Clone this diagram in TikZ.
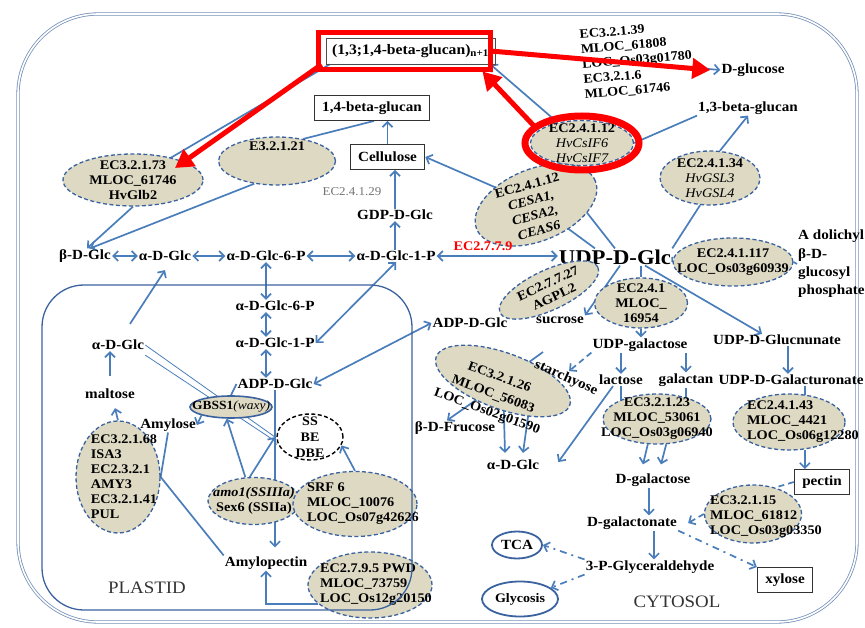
\documentclass[tikz,border=0pt]{standalone}
\usepackage{fontspec}
\setmainfont{Liberation Serif}[FakeStretch=1.08]
\usetikzlibrary{arrows.meta,positioning,shapes.geometric}

\definecolor{arrblue}{RGB}{74,126,187}
\definecolor{ringblue}{RGB}{58,98,158}
\definecolor{tanfill}{RGB}{221,217,195}
\definecolor{cellline}{RGB}{118,146,184}
\definecolor{markred}{RGB}{255,0,0}

\pgfdeclarelayer{bg}
\pgfsetlayers{bg,main}

\tikzset{
  lbl/.style={font=\fontsize{14}{15}\selectfont\bfseries, inner sep=1pt},
  bigl/.style={font=\fontsize{21}{23}\selectfont\bfseries, inner sep=1pt},
  boxlbl/.style={lbl, draw=black!80, line width=0.9pt, inner xsep=8pt, minimum height=25pt},
  enz/.style={ellipse, draw=ringblue, dash pattern=on 4pt off 2.5pt, line width=1.3pt, fill=tanfill, inner sep=0pt},
  solidenz/.style={ellipse, draw=ringblue, line width=1.6pt, fill=tanfill, inner sep=0pt},
  etxt/.style={font=\fontsize{13.2}{15}\selectfont\bfseries, align=center, inner sep=0pt},
  pool/.style={ellipse, draw=ringblue, line width=1.8pt, inner sep=0pt},
  flow/.style={draw=arrblue, line width=1.7pt},
  thinflow/.style={draw=arrblue, line width=0.8pt},
  dashflow/.style={flow, dash pattern=on 6pt off 4pt},
  dashdotflow/.style={flow, dash pattern=on 7pt off 5pt on 2pt off 5pt},
  redmark/.style={draw=markred, line width=5pt},
  redarrow/.style={redmark, -{Triangle[length=18pt,width=20pt]}},
  region/.style={font=\fontsize{17.5}{19}\selectfont, text=black!80}
}

\begin{document}
\begin{tikzpicture}[x=1pt, y=-1pt, >={Straight Barb[length=5pt,width=10pt]}]
  \useasboundingbox (0,0) rectangle (865,628);

  % cell wall
  \draw[draw=cellline, line width=0.8pt, double=white, double distance=1.6pt, rounded corners=80pt] (18,14) rectangle (857,622);

  % wall polymers
  \node[lbl, draw=black!70, line width=0.9pt, minimum width=169pt, minimum height=26pt, font=\fontsize{14.5}{16}\selectfont\bfseries] (gluc) at (410.5,51) {(1,3;1,4-beta-glucan)\textsubscript{n+1}};
  \node[lbl] (dglu) at (753,70) {D-glucose};
  \node[etxt, align=left, rotate=5, anchor=north west, font=\fontsize{13}{15}\selectfont\bfseries] (hyd) at (579,30) {EC3.2.1.39\\MLOC\_61808\\LOC\_Os03g01780\\EC3.2.1.6\\MLOC\_61746};
  \node[lbl] (one3) at (748,108) {1,3-beta-glucan};
  \node[boxlbl, minimum width=115pt] (one4) at (372,108) {1,4-beta-glucan};
  \node[boxlbl] (cel) at (387.5,157) {Cellulose};
  \node[lbl, font=\fontsize{12}{14}\selectfont, text=black!55] (ec29) at (352,192) {EC2.4.1.29};
  \node[lbl] (gdp) at (395,215) {GDP-D-Glc};

  \node[enz, minimum width=117pt, minimum height=48pt] (e21) at (277,161) {};
  \node[etxt] (e21t) at (277,146) {E3.2.1.21};
  \node[enz, minimum width=140pt, minimum height=52pt, label={[etxt]center:{EC3.2.1.73\\MLOC\_61746\\HvGlb2}}] (e73) at (133,180) {};
  \node[enz, minimum width=103pt, minimum height=45pt, label={[etxt]center:{EC2.4.1.12\\{\mdseries\itshape HvCsIF6}\\{\mdseries\itshape HvCsIF7}}}] (csif) at (582,143) {};
  \node[enz, rotate=22, minimum width=128pt, minimum height=72pt] (cesa) at (536,205) {};
  \node[etxt, rotate=15, font=\fontsize{13.2}{15.5}\selectfont\bfseries] (cesat) at (533,208) {EC2.4.1.12\\\textit{CESA1,}\\\textit{CESA2,}\\\textit{CEAS6}};
  \node[enz, minimum width=100pt, minimum height=54pt, label={[etxt]center:{EC2.4.1.34\\{\mdseries\itshape HvGSL3}\\{\mdseries\itshape HvGSL4}}}] (gsl) at (710,178) {};

  % main row
  \node[lbl] (bglc) at (85,256) {β-D-Glc};
  \node[lbl] (aglc) at (165,256) {α-D-Glc};
  \node[lbl] (g6p) at (266,256) {α-D-Glc-6-P};
  \node[lbl] (g1p) at (396,256) {α-D-Glc-1-P};
  \node[bigl] (udp) at (615,257) {UDP-D-Glc};
  \node[etxt, text=markred] (ec779) at (483,246) {EC2.7.7.9};
  \node[enz, minimum width=120pt, minimum height=48pt, label={[etxt]center:{EC2.4.1.117\\LOC\_Os03g60939}}] (e117) at (733,262) {};
  \node[lbl, align=left, anchor=west, font=\fontsize{14}{18.3}\selectfont\bfseries] (dol) at (797,264) {A dolichyl\\β-D-\\glucosyl\\phosphate};

  % cytosol
  \node[enz, rotate=25, minimum width=108pt, minimum height=40pt] (agpl) at (549,290) {};
  \node[etxt, rotate=25] (agplt) at (551,290) {EC2.7.7.27\\AGPL2};
  \node[enz, minimum width=93pt, minimum height=50pt, label={[etxt]center:{EC2.4.1\\MLOC\_\\16954}}] (e41) at (641,303) {};
  \node[lbl] (sucrose) at (560,320) {sucrose};
  \node[lbl] (adpc) at (470,323) {ADP-D-Glc};
  \node[lbl] (udpgal) at (640,345) {UDP-galactose};
  \node[lbl] (udpglcn) at (777,340) {UDP-D-Glucnunate};
  \node[enz, rotate=-20, minimum width=142pt, minimum height=56pt] (e26) at (503,381) {};
  \node[etxt, rotate=-20, font=\fontsize{13.2}{18}\selectfont\bfseries] (e26t) at (493,395) {EC3.2.1.26\\MLOC\_56083\\LOC\_Os02g01590};
  \node[lbl, rotate=-24] (starch) at (566,378) {starchyose};
  \node[lbl] (bfru) at (455,428) {β-D-Frucose};
  \node[lbl] (aglcc) at (513,465) {α-D-Glc};
  \node[lbl] (lactose) at (621,380) {lactose};
  \node[lbl] (galactan) at (686,380) {galactan};
  \node[lbl] (udpgalac) at (791,380) {UDP-D-Galacturonate};
  \node[enz, minimum width=108pt, minimum height=50pt, label={[etxt]center:{EC3.2.1.23\\MLOC\_53061\\LOC\_Os03g06940}}] (e23) at (657,419) {};
  \node[enz, minimum width=112pt, minimum height=56pt, label={[etxt, align=left, xshift=14pt]center:{EC2.4.1.43\\MLOC\_4421\\LOC\_Os06g12280}}] (e43) at (789,422) {};
  \node[boxlbl] (pectin) at (822,482) {pectin};
  \node[enz, minimum width=97pt, minimum height=58pt, label={[etxt, align=left, xshift=13pt, yshift=-3pt]center:{EC3.2.1.15\\MLOC\_61812\\LOC\_Os03g03350}}] (e15) at (753,514) {};
  \node[lbl] (dgal) at (653,480) {D-galactose};
  \node[lbl] (dgalac) at (632,523) {D-galactonate};
  \node[lbl] (gap) at (650,567) {3-P-Glyceraldehyde};
  \node[pool, font=\fontsize{14}{15}\selectfont\bfseries, minimum width=50pt, minimum height=27pt] (tca) at (517,545) {TCA};
  \node[pool, font=\fontsize{13}{14}\selectfont\bfseries, minimum width=76pt, minimum height=35pt] (glyc) at (520,599) {Glycosis};
  \node[boxlbl] (xylose) at (785,580) {xylose};
  \node[region] (cytosol) at (677,602) {CYTOSOL};

  % plastid
  \node[region] (plastid) at (147,588) {PLASTID};
  \node[lbl] (paglc) at (118,345) {α-D-Glc};
  \node[lbl] (malt) at (110,394) {maltose};
  \node[lbl] (amyl) at (168,425) {Amylose};
  \node[enz, minimum width=84pt, minimum height=112pt, label={[etxt, align=left, xshift=6pt]center:{EC3.2.1.68\\ISA3\\EC2.3.2.1\\AMY3\\EC3.2.1.41\\PUL}}] (e68) at (118,477) {};
  \node[lbl] (pg6p) at (275,306) {α-D-Glc-6-P};
  \node[lbl] (pg1p) at (275,343) {α-D-Glc-1-P};
  \node[lbl] (padp) at (275,384) {ADP-D-Glc};
  \node[solidenz, minimum width=82pt, minimum height=22pt, label={[etxt, font=\fontsize{12.5}{14}\selectfont\bfseries]center:{GBSS1{\mdseries\itshape(waxy)}}}] (gbss) at (231,407) {};
  \node[ellipse, draw=black, dash pattern=on 4pt off 2.5pt, line width=1.4pt, fill=white, minimum width=66pt, minimum height=46pt, inner sep=0pt, label={[etxt, font=\fontsize{13}{16}\selectfont\bfseries]center:{SS\\BE\\DBE}}] (ssbe) at (310,437) {};
  \node[enz, minimum width=92pt, minimum height=47pt, label={[etxt, font=\fontsize{13.2}{14.5}\selectfont\bfseries]center:{{\itshape amo1(SSIIIa)}\\Sex6 (SSIIa)}}] (amo) at (254,501) {};
  \node[enz, minimum width=124pt, minimum height=65pt, label={[etxt, align=left, xshift=8pt]center:{SRF 6\\MLOC\_10076\\LOC\_Os07g42626}}] (srf) at (355,504) {};
  \node[lbl] (amylop) at (266,563) {Amylopectin};
  \node[enz, minimum width=124pt, minimum height=66pt, label={[etxt, align=left, xshift=6pt]center:{EC2.7.9.5 PWD\\MLOC\_73759\\LOC\_Os12g20150}}] (pwd) at (370,585) {};
  \coordinate (jn) at (padp |- ssbe);
  \coordinate (sucj) at (543,352);

  \begin{pgfonlayer}{bg}
    % wall polymers
    \draw[flow,->] (gluc.east) -- (dglu.west);
    \draw[flow] ([xshift=4pt]gluc.south west) -- (e73.center);
    \draw[flow,->] (csif.140) -- ([xshift=-5pt]gluc.south east);
    \draw[flow] (csif.east) -- (one3.south west);
    \draw[flow,->] (gsl.70) -- (one3.south);
    \draw[flow] (udp.north east) -- (gsl.250);
    \draw[flow,->] (cesa.center) -- (cel.east);
    \draw[flow] (udp.north) -- (csif.south west);
    \draw[flow] ([xshift=-20pt]udp.north) -- (cesa.center);
    \draw[flow,->] (cel.north) -- (cel.north |- one4.south);
    \draw[flow] (e21.40) -- ([xshift=2pt]one4.south);
    \draw[flow,->] (e73.south) -- ([xshift=2pt]bglc.north);
    \draw[flow,->] (e21.225) -- ([xshift=5pt]bglc.north);
    \draw[flow,->] (gdp.north) -- (gdp.north |- cel.south);
    \draw[flow,->] (gdp |- g1p.north) -- (gdp.south);

    % main row
    \draw[flow,<->] (bglc) -- (aglc);
    \draw[flow,<->] (aglc) -- (g6p);
    \draw[flow,<->] (g6p) -- (g1p);
    \draw[flow,<->] (g1p.east) -- (g1p.east -| udp.west);
    \draw[flow] (udp.east) -- (e117.west);
    \draw[flow] (e117.east) -- (dol.west);

    % cytosol <-> plastid
    \draw[flow,<->] (g6p.south) -- (g6p.south |- pg6p.north);
    \draw[flow,<->] (g6p.south |- pg6p.south) -- (g6p.south |- pg1p.north);
    \draw[flow,<->] (g6p.south |- pg1p.south) -- (g6p.south |- padp.north);
    \draw[flow,<->] (g1p.south) -- (pg1p.east);
    \draw[flow,<->] (adpc.west) -- (padp.east);

    % cytosol
    \draw[flow,->] ([xshift=5pt]udp.south) -- (sucrose.north east);
    \draw[flow] (udp.south -| e41.north) -- (e41.north);
    \draw[flow,->] (e41.south) -- (e41.south |- udpgal.north);
    \draw[flow,->] ([xshift=30pt]udp.south) -- ([xshift=-15pt]udpglcn.north);
    \draw[flow,->] (udpgal.south -| lactose) -- (lactose.north);
    \draw[flow,->] (udpgal.south -| galactan) -- (galactan.north);
    \draw[flow,->] ([xshift=11pt]udpglcn.south) -- ([xshift=11pt]udpglcn.south |- udpgalac.north);
    \draw[flow] (udpgalac.south -| e43.60) -- (e43.60);
    \draw[flow,->] (e43.-60) -- (e43.-60 |- pectin.north);
    \draw[dashflow] (pectin.west) -- (e15.50);
    \draw[dashflow,->] (e15.west) -- ([xshift=10pt]dgalac.east);
    \draw[flow,->] ([xshift=-8pt]lactose.south) -- ([xshift=18pt,yshift=3pt]aglcc.east);
    \draw[flow] (lactose.south) -- (lactose |- e23);
    \draw[flow] (galactan.south) -- (galactan |- e23);
    \draw[flow,->] (e23.-110) -- ([xshift=-10pt,yshift=8pt]dgal.north);
    \draw[flow,->] (e23.-70) -- ([xshift=8pt,yshift=8pt]dgal.north);
    \draw[flow,->] ([xshift=-4pt]dgal.south) -- ([xshift=-4pt]dgal.south |- dgalac.north);
    \draw[flow,->] ([xshift=22pt]dgalac.south) -- ([xshift=22pt]dgalac.south |- gap.north);
    \draw[dashdotflow,->] (dgalac.south east) -- (xylose.north west);
    \draw[dashdotflow,->] (gap.north west) -- (tca.east);
    \draw[dashdotflow,->] (gap.south west) -- (glyc.20);
    \draw[flow] (sucj) -- (e26.center);
    \draw[dashflow,->] (udpgal.south west) -- (starch.north);
    \draw[flow,->] (e26.center) -- ([xshift=-8pt]bfru.north);
    \draw[flow,->] (e26.center) -- ([xshift=-8pt,yshift=6pt]aglcc.north);
    \draw[flow,->] ([xshift=30pt]e26.center) -- ([xshift=10pt,yshift=6pt]aglcc.north);

    % plastid
    \draw[flow,->] ([shift={(12,-15)}]paglc.north) -- ([yshift=-8pt]aglc.south);
    \draw[flow,->] ([yshift=12pt]malt.north) -- (malt.north |- paglc.south);
    \draw[flow,->] (e68.north) -- ([xshift=5pt,yshift=-8pt]malt.south);
    \draw[flow] (amyl.south) -- (e68.east);
    \draw[flow] (amylop.north west) -- (e68.east);
    \draw[flow] (padp.west) -- (gbss.north);
    \draw[flow,->] (gbss.south west) -- (amyl.east);
    \draw[flow,->] (amo.110) -- (gbss.-110);
    \draw[flow,->] (amo.100) -- (jn);
    \draw[flow,->] (padp.south) -- ([yshift=8pt]padp.south |- amylop.north);
    \draw[thinflow] (paglc.east) -- (jn);
    \draw[thinflow] ([yshift=-4pt]paglc.south east) -- ([yshift=-4pt]jn);
    \draw[flow,->] (srf.north) -- (ssbe.-15);
    \draw[flow,->] (pwd.200) -| (amylop.south);
  \end{pgfonlayer}

  % plastid envelope
  \draw[ringblue, line width=1.3pt, rounded corners=42pt] (42,285) rectangle (412,610);

  % red highlights
  \draw[redmark] ([shift={(-7,-5)}]gluc.north west) rectangle ([shift={(-5,5)}]gluc.south east);
  \draw[redarrow] ([xshift=-5pt]gluc.east) -- ([xshift=-10pt]dglu.west);
  \draw[redarrow] ([xshift=-4pt]gluc.south west) -- ([shift={(42,-12)}]e73.center);
  \draw[redarrow] ([shift={(-47,-16)}]csif.center) -- ([shift={(-13,7)}]gluc.south east);
  \draw[markred, line width=7pt] (csif.center) ellipse [x radius=57pt, y radius=27pt];
\end{tikzpicture}
\end{document}
